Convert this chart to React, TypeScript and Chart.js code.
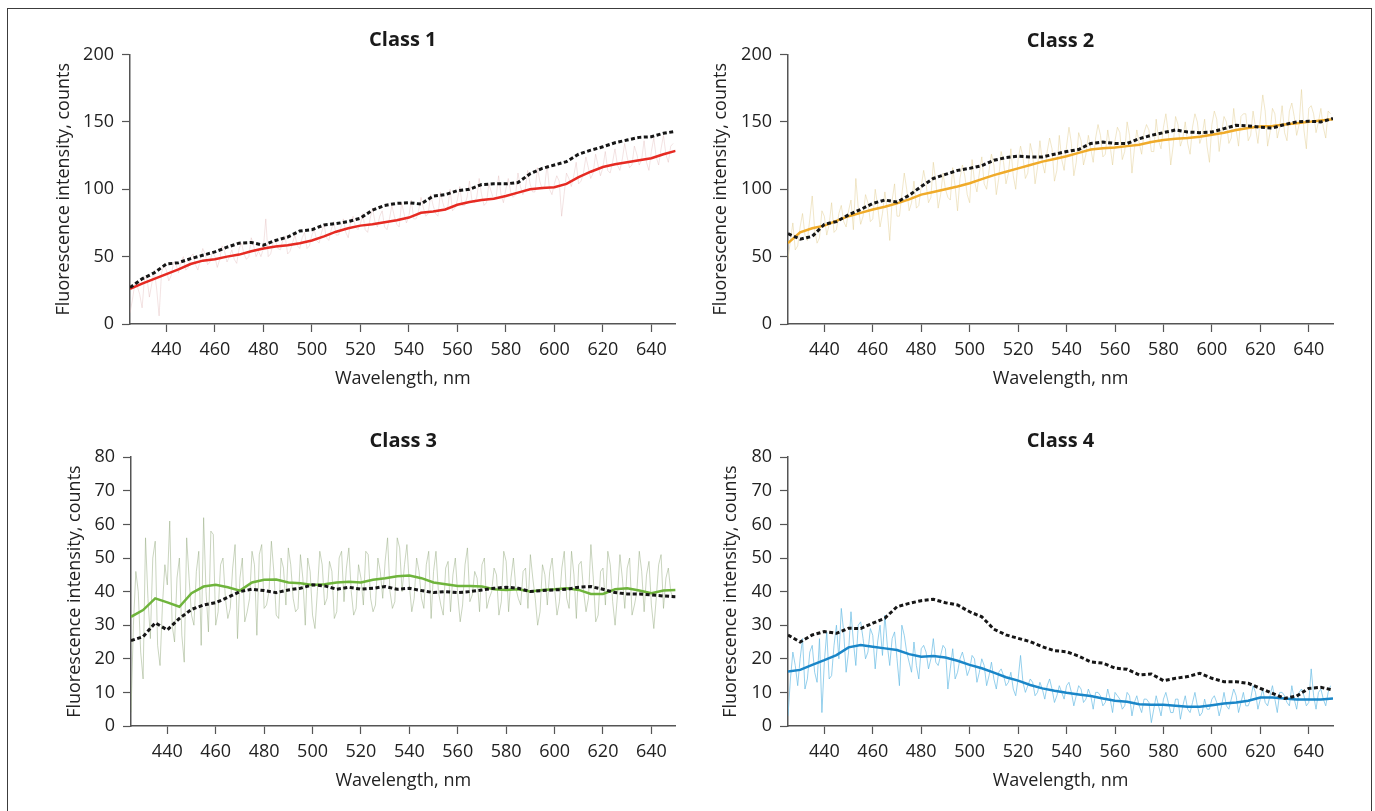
import React, { useEffect, useRef } from "react";
import { Chart, registerables } from "chart.js";

Chart.register(...registerables);

const FONT = "'Open Sans', 'Noto Sans', sans-serif";

// Tick labels
const X_TICKS = [440, 460, 480, 500, 520, 540, 560, 580, 600, 620, 640];
const Y_TICKS_HIGH = [0, 50, 100, 150, 200];
const Y_TICKS_LOW = [0, 10, 20, 30, 40, 50, 60, 70, 80];

// Wavelength sampling grids (nm)
const wlGrid = (start: number, end: number, step: number) => {
  const out: number[] = [];
  for (let v = start; v <= end + 1e-9; v += step) out.push(v);
  return out;
};
const SMOOTH_WL = wlGrid(425, 650, 5);
const NOISY_WL_A = wlGrid(425, 649, 2);
const NOISY_WL_B = wlGrid(426, 648, 2);

// Class 1
const class1Smooth = [26, 30, 33.5, 37, 40.5, 44.5, 47, 48, 50, 51.5, 54, 56, 57.5, 58.5, 60, 62, 65, 68.5, 71, 73, 74, 75.5, 77, 79, 82.5, 83.5, 85, 88.5, 90.5, 92, 93, 95, 97.5, 100, 101, 101.5, 104, 109, 113, 116.5, 118.5, 120, 121.5, 123, 126, 128.5];
const class1Dashed = [27, 33.5, 38, 44.5, 45.5, 48.5, 51, 53.5, 57, 60, 60.5, 58.5, 62, 64.5, 69, 70, 73.5, 74.5, 76, 78.5, 84.5, 88, 89.5, 90, 89, 95, 96, 99, 100, 103.5, 104, 104, 105, 111.5, 115.5, 118, 120.5, 126, 129, 131.5, 134.5, 136.5, 138.5, 139, 141.5, 143];
const class1NoisyA = [
  8, 30, 22, 35, 20, 40, 6, 44, 32, 46,
  38, 50, 42, 52, 40, 56, 44, 54, 42, 58,
  46, 55, 45, 60, 48, 64, 50, 50, 78, 52,
  62, 55, 65, 54, 66, 56, 68, 58, 70, 60,
  74, 62, 76, 66, 78, 64, 80, 70, 82, 68,
  86, 72, 84, 70, 88, 74, 90, 75, 92, 78,
  94, 80, 96, 82, 98, 84, 100, 86, 102, 88,
  106, 90, 108, 88, 104, 92, 110, 90, 108, 94,
  112, 96, 114, 98, 116, 100, 118, 96, 110, 80,
  112, 102, 120, 106, 124, 108, 126, 110, 128, 112,
  130, 114, 134, 116, 132, 118, 136, 114, 138, 118,
  140, 120, 134,
];
const class1NoisyB = [
  18, 28, 12, 34, 30, 26, 38, 40, 36, 44,
  46, 40, 50, 44, 48, 52, 46, 50, 48, 54,
  50, 48, 56, 52, 50, 58, 54, 56, 50, 60,
  56, 62, 52, 60, 58, 64, 56, 66, 62, 68,
  64, 70, 66, 72, 68, 76, 72, 74, 70, 78,
  76, 80, 72, 78, 80, 72, 82, 80, 78, 84,
  86, 82, 88, 80, 90, 86, 84, 92, 88, 94,
  92, 94, 96, 90, 98, 94, 96, 100, 98, 96,
  102, 100, 104, 98, 106, 102, 100, 104, 106, 96,
  108, 110, 104, 112, 116, 112, 118, 116, 114, 120,
  118, 122, 124, 118, 126, 122, 120, 128, 124, 130,
  126, 132,
];

// Class 2
const class2Smooth = [60, 68, 71, 73, 76.5, 80, 82.5, 85, 87, 89.5, 92.5, 96, 98, 100, 102, 104.5, 107.5, 110.5, 113, 115.5, 118, 120.5, 122.5, 124.5, 127, 129.5, 130.5, 131, 132, 133, 135, 136.5, 137.5, 138, 139, 140.5, 142, 144, 145.5, 146.5, 147, 148, 149, 150, 151, 152];
const class2Dashed = [67, 63, 65, 74, 76, 81, 85, 89.5, 92, 90.5, 95.5, 102, 108, 111, 114, 115.5, 117.5, 121.5, 123.5, 124.5, 124, 124, 126, 128, 129.5, 134, 135, 134, 134, 137.5, 140, 142, 144, 142.5, 142, 142.5, 145, 147.5, 147, 146, 145.5, 148, 150, 150.5, 150, 152.5];
const class2NoisyA = [
  48, 75, 58, 82, 62, 95, 60, 84, 66, 90,
  70, 88, 72, 92, 108, 74, 96, 76, 100, 72,
  98, 62, 104, 80, 112, 84, 106, 88, 114, 90,
  120, 86, 112, 94, 116, 84, 118, 96, 122, 98,
  124, 100, 126, 96, 128, 104, 130, 100, 132, 108,
  134, 104, 136, 112, 138, 106, 140, 114, 146, 110,
  142, 118, 140, 120, 148, 124, 144, 118, 146, 122,
  150, 112, 144, 126, 148, 128, 152, 130, 156, 118,
  154, 132, 150, 126, 156, 134, 152, 120, 158, 128,
  154, 134, 160, 132, 156, 136, 158, 134, 170, 132,
  160, 138, 162, 136, 164, 140, 174, 130, 162, 142,
  160, 138, 156,
];
const class2NoisyB = [
  62, 55, 72, 66, 78, 70, 64, 80, 74, 68,
  82, 76, 84, 70, 86, 80, 90, 78, 88, 82,
  84, 92, 80, 96, 100, 90, 86, 102, 104, 94,
  106, 96, 100, 92, 102, 108, 110, 90, 106, 112,
  104, 114, 118, 108, 120, 112, 110, 122, 124, 112,
  126, 116, 120, 128, 130, 114, 122, 132, 134, 120,
  136, 126, 130, 138, 140, 126, 132, 136, 142, 128,
  140, 130, 134, 142, 144, 128, 136, 146, 142, 132,
  148, 138, 134, 146, 150, 140, 132, 148, 152, 142,
  150, 138, 144, 154, 156, 140, 146, 152, 158, 142,
  156, 146, 142, 158, 154, 148, 144, 160, 156, 150,
  146, 158,
];

// Class 3
const class3Smooth = [32.5, 34.5, 38, 36.8, 35.5, 39.5, 41.5, 42, 41.3, 40.3, 42.7, 43.5, 43.6, 42.7, 42.5, 42, 42.2, 42.7, 42.9, 42.7, 43.5, 44, 44.6, 44.8, 44, 42.7, 42.2, 41.7, 41.7, 41.5, 40.7, 40.5, 40.7, 40, 40.5, 40.7, 41, 40.5, 39.3, 39.3, 40.7, 41, 40.3, 39.5, 40.3, 40.5];
const class3Dashed = [25.4, 26.6, 30.7, 28.6, 32, 34.7, 36, 36.7, 38.3, 40, 40.7, 40.3, 39.7, 40.5, 41, 42, 41.7, 40.7, 41.3, 40.7, 41, 41.5, 40.7, 41, 40.3, 39.7, 40, 39.7, 40, 40.5, 41, 41.3, 41, 40, 40.3, 40.5, 40.7, 41.3, 41.5, 40.7, 39.7, 39.3, 39.3, 39, 38.7, 38.5];
const class3NoisyA = [
  4, 46, 22, 56, 26, 55, 18, 48, 61, 25,
  50, 19, 44, 30, 52, 62, 28, 57, 34, 50,
  32, 47, 26, 50, 34, 52, 27, 54, 36, 55,
  33, 50, 36, 48, 34, 51, 30, 46, 29, 52,
  36, 49, 32, 50, 37, 53, 33, 48, 36, 51,
  34, 50, 38, 56, 35, 56, 40, 54, 34, 50,
  38, 48, 32, 52, 36, 47, 34, 50, 31, 48,
  37, 46, 34, 50, 38, 47, 33, 52, 34, 50,
  38, 46, 35, 44, 30, 48, 36, 50, 33, 47,
  38, 52, 32, 49, 34, 54, 31, 46, 36, 48,
  30, 51, 35, 50, 36, 52, 34, 49, 29, 48,
  35, 47, 38,
];
const class3NoisyB = [
  30, 40, 14, 38, 50, 24, 36, 42, 30, 44,
  27, 56, 33, 46, 24, 40, 58, 30, 48, 38,
  35, 54, 44, 31, 38, 48, 51, 35, 40, 46,
  32, 47, 53, 38, 35, 44, 50, 33, 40, 48,
  38, 46, 34, 52, 47, 40, 35, 44, 52, 38,
  36, 46, 49, 40, 37, 53, 48, 42, 38, 46,
  35, 52, 46, 40, 33, 49, 45, 39, 36, 53,
  39, 44, 48, 35, 40, 45, 37, 49, 44, 41,
  36, 47, 51, 38, 34, 45, 46, 41, 37, 52,
  35, 45, 48, 40, 38, 44, 33, 47, 52, 37,
  39, 44, 47, 33, 40, 46, 45, 36, 38, 51,
  44, 40,
];

// Class 4
const class4Smooth = [16.2, 16.7, 18.2, 19.6, 21.1, 23.4, 24.1, 23.6, 23.1, 22.6, 21.4, 20.6, 20.8, 20.4, 19.4, 18.2, 17.2, 15.9, 14.5, 13.5, 12.2, 11.2, 10.5, 9.9, 9.4, 8.9, 8.2, 7.5, 7.2, 6.5, 6.3, 6.3, 6, 5.7, 5.7, 6.2, 6.7, 7, 7.5, 8.5, 8.5, 8.2, 7.9, 7.9, 7.9, 8.2];
const class4Dashed = [27.1, 25, 27.1, 28.1, 27.6, 29.1, 29, 30.6, 32.1, 35.5, 36.5, 37.3, 37.7, 36.7, 36, 34, 32.5, 28.8, 27.1, 26.1, 25.1, 23.6, 22.4, 22.1, 20.8, 19.1, 18.7, 17.2, 16.9, 15.2, 15.5, 13.5, 14.2, 14.7, 15.7, 14.2, 13.2, 13.2, 12.7, 11.2, 9.7, 8.2, 8.9, 11.2, 11.5, 10.7];
const class4NoisyA = [
  3, 22, 12, 26, 14, 24, 13, 4, 28, 15,
  30, 35, 16, 34, 18, 31, 20, 29, 17, 30,
  33, 18, 28, 12, 27, 19, 25, 14, 24, 17,
  26, 18, 24, 11, 23, 16, 22, 15, 21, 13,
  20, 12, 19, 11, 17, 12, 16, 9, 21, 10,
  14, 9, 13, 8, 14, 7, 12, 8, 13, 6,
  12, 7, 11, 5, 10, 6, 11, 4, 9, 5,
  10, 3, 9, 4, 8, 1, 9, 3, 10, 4,
  8, 2, 9, 4, 10, 3, 8, 5, 9, 3,
  10, 5, 11, 4, 10, 6, 12, 5, 11, 6,
  12, 4, 10, 7, 12, 5, 11, 6, 17, 5,
  11, 6, 12,
];
const class4NoisyB = [
  14, 18, 20, 11, 22, 16, 26, 19, 14, 24,
  20, 28, 22, 25, 30, 26, 22, 27, 25, 21,
  24, 26, 20, 30, 22, 16, 18, 23, 22, 20,
  19, 21, 23, 17, 14, 20, 19, 17, 20, 16,
  18, 15, 14, 16, 15, 13, 11, 14, 13, 12,
  13, 10, 11, 12, 11, 9, 10, 12, 10, 9,
  11, 8, 9, 10, 9, 7, 8, 10, 8, 6,
  9, 7, 6, 8, 7, 5, 6, 8, 7, 4,
  8, 6, 5, 7, 6, 4, 5, 8, 7, 6,
  6, 8, 9, 7, 6, 8, 10, 8, 7, 9,
  8, 10, 9, 6, 8, 10, 9, 7, 9, 10,
  8, 10,
];

const pts = (xs: number[], ys: number[]) => ys.map((y, i) => ({ x: xs[i], y }));
const mergePts = (a: { x: number; y: number }[], b: { x: number; y: number }[]) =>
  [...a, ...b].sort((p, q) => p.x - q.x);

type PanelCfg = {
  title: string;
  yMax: number;
  yTicks: number[];
  smooth: number[];
  dashed: number[];
  noisyA: number[];
  noisyB: number[];
  color: string;
  noisyColor: string;
  cl: number; cr: number; ct: number; cb: number; yTitleMid: number; titleY: number;
};

const PANELS: PanelCfg[] = [
  { title: "Class 1", yMax: 200, yTicks: Y_TICKS_HIGH, smooth: class1Smooth, dashed: class1Dashed, noisyA: class1NoisyA, noisyB: class1NoisyB,
    color: "#e62a22", noisyColor: "rgba(220,175,175,0.35)",
    cl: 130, cr: 675.6, ct: 54.5, cb: 324, yTitleMid: 64, titleY: 40.5 },
  { title: "Class 2", yMax: 200, yTicks: Y_TICKS_HIGH, smooth: class2Smooth, dashed: class2Dashed, noisyA: class2NoisyA, noisyB: class2NoisyB,
    color: "#f0ab2a", noisyColor: "rgba(228,208,150,0.5)",
    cl: 788, cr: 1333, ct: 54.5, cb: 324, yTitleMid: 721, titleY: 40.8 },
  { title: "Class 3", yMax: 80, yTicks: Y_TICKS_LOW, smooth: class3Smooth, dashed: class3Dashed, noisyA: class3NoisyA, noisyB: class3NoisyB,
    color: "#6fb43c", noisyColor: "rgba(150,172,128,0.5)",
    cl: 131, cr: 675.6, ct: 457.2, cb: 726, yTitleMid: 74.4, titleY: 440.8 },
  { title: "Class 4", yMax: 80, yTicks: Y_TICKS_LOW, smooth: class4Smooth, dashed: class4Dashed, noisyA: class4NoisyA, noisyB: class4NoisyB,
    color: "#1a86c8", noisyColor: "rgba(105,188,228,0.7)",
    cl: 788, cr: 1333, ct: 457.2, cb: 726, yTitleMid: 730.6, titleY: 440.8 },
];

const AXIS_COLOR = "#555";
const TEXT_COLOR = "#222";
const X_SCALE_H = 70;

function Panel({ cfg }: { cfg: PanelCfg }) {
  const ref = useRef<HTMLCanvasElement | null>(null);
  const L = Math.round(cfg.yTitleMid - 24);
  const T = Math.round(cfg.titleY - 30);
  const W = Math.round(cfg.cr + 6 - L);
  const H = Math.round(cfg.cb + X_SCALE_H - T);
  const padRight = L + W - cfg.cr;
  const yWidth = cfg.cl - L;
  const yTitlePadTop = cfg.yTitleMid - L - 10.8;
  const titlePadTop = cfg.titleY - T - 12;
  const titlePadBottom = cfg.ct - T - 24 - titlePadTop;

  useEffect(() => {
    if (!ref.current) return;
    const chart = new Chart(ref.current, {
      type: "line",
      data: {
        datasets: [
          {
            data: pts(SMOOTH_WL, cfg.dashed),
            borderColor: "#161616",
            borderWidth: 3,
            borderDash: [4, 2.5],
            pointRadius: 0,
            fill: false,
            order: 0,
          },
          {
            data: pts(SMOOTH_WL, cfg.smooth),
            borderColor: cfg.color,
            borderWidth: 2.5,
            pointRadius: 0,
            fill: false,
            order: 1,
          },
          {
            data: mergePts(pts(NOISY_WL_A, cfg.noisyA), pts(NOISY_WL_B, cfg.noisyB)),
            borderColor: cfg.noisyColor,
            borderWidth: 1,
            pointRadius: 0,
            fill: false,
            order: 2,
          },
        ],
      },
      options: {
        animation: false,
        responsive: false,
        events: [],
        layout: { padding: { left: 0, right: padRight, top: 0, bottom: 0 } },
        plugins: {
          legend: { display: false },
          tooltip: { enabled: false },
          title: {
            display: true,
            text: cfg.title,
            fullSize: false,
            color: "#1a1a1a",
            font: { family: FONT, size: 20, weight: "bold" },
            padding: { top: titlePadTop, bottom: titlePadBottom },
          },
        },
        scales: {
          x: {
            type: "linear",
            min: 425,
            max: 650,
            afterBuildTicks: (s: any) => {
              s.ticks = X_TICKS.map((v) => ({ value: v }));
            },
            afterFit: (s: any) => {
              s.height = X_SCALE_H;
            },
            ticks: {
              color: TEXT_COLOR,
              font: { family: FONT, size: 18 },
              padding: 7,
              maxRotation: 0,
              autoSkip: false,
            },
            grid: {
              display: true,
              drawOnChartArea: false,
              drawTicks: true,
              tickLength: 8,
              tickColor: AXIS_COLOR,
              tickWidth: 1.2,
            },
            border: { display: true, color: AXIS_COLOR, width: 1.5 },
            title: {
              display: true,
              text: "Wavelength, nm",
              color: TEXT_COLOR,
              font: { family: FONT, size: 18 },
              padding: { top: 0, bottom: 4.2 },
            },
          },
          y: {
            type: "linear",
            min: 0,
            max: cfg.yMax,
            afterBuildTicks: (s: any) => {
              s.ticks = cfg.yTicks.map((v) => ({ value: v }));
            },
            afterFit: (s: any) => {
              s.width = yWidth;
            },
            ticks: {
              color: TEXT_COLOR,
              font: { family: FONT, size: 18 },
              padding: 8,
              autoSkip: false,
            },
            grid: {
              display: true,
              drawOnChartArea: false,
              drawTicks: true,
              tickLength: 8,
              tickColor: AXIS_COLOR,
              tickWidth: 1.2,
            },
            border: { display: true, color: AXIS_COLOR, width: 1.5 },
            title: {
              display: true,
              text: "Fluorescence intensity, counts",
              color: TEXT_COLOR,
              font: { family: FONT, size: 18 },
              padding: { top: yTitlePadTop, bottom: 0 },
            },
          },
        },
      } as any,
    });
    return () => chart.destroy();
  }, []);

  return (
    <canvas
      ref={ref}
      width={W}
      height={H}
      style={{ position: "absolute", left: L, top: T, width: W, height: H }}
    />
  );
}

export default function App() {
  return (
    <div
      style={{
        position: "absolute",
        left: 0,
        top: 0,
        width: 1375,
        height: 811,
        overflow: "hidden",
        background: "#fff",
      }}
    >
      <div
        style={{
          position: "absolute",
          left: 7,
          top: 8,
          width: 1365,
          height: 900,
          boxSizing: "border-box",
          border: "1.5px solid #3c3c3c",
        }}
      />
      {PANELS.map((p) => (
        <Panel key={p.title} cfg={p} />
      ))}
    </div>
  );
}
